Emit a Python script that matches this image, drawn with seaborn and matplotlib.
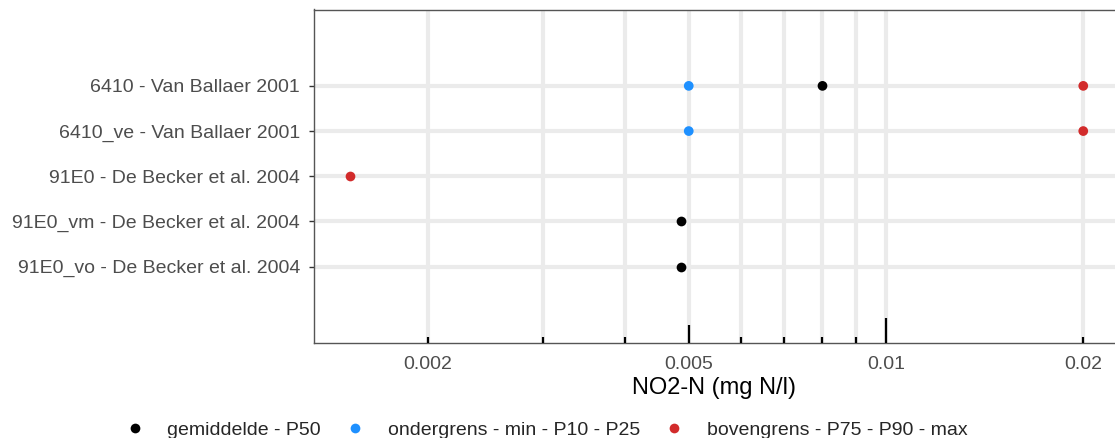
import numpy as np
import pandas as pd
import matplotlib
matplotlib.use("Agg")
import matplotlib.pyplot as plt
import matplotlib.ticker as mticker
import seaborn as sns

# ======== DATA ========
studies = [
    "6410 - Van Ballaer 2001",
    "6410_ve - Van Ballaer 2001",
    "91E0 - De Becker et al. 2004",
    "91E0_vm - De Becker et al. 2004",
    "91E0_vo - De Becker et al. 2004",
]
gemiddelde = [0.008, np.nan, np.nan, 0.00487, 0.00487]
ondergrens = [0.005, 0.005, np.nan, np.nan, np.nan]
bovengrens = [0.02, 0.02, 0.00152, np.nan, np.nan]

series_names = ["gemiddelde - P50", "ondergrens - min - P10 - P25", "bovengrens - P75 - P90 - max"]
series_colors = ["black", "#1E90FF", "#D22B2B"]
x_ticks = [0.002, 0.005, 0.01, 0.02]
x_tick_labels = ["0.002", "0.005", "0.01", "0.02"]
# ======================

df = pd.DataFrame({
    "studie": studies * 3,
    "type": [series_names[0]] * 5 + [series_names[1]] * 5 + [series_names[2]] * 5,
    "waarde": gemiddelde + ondergrens + bovengrens,
}).dropna()

sns.set_style("white")
plt.rcParams["font.family"] = ["Liberation Sans", "DejaVu Sans"]

fig = plt.figure(figsize=(11.15, 4.38), dpi=100)
ax = fig.add_axes([314 / 1115, 95 / 438, 1 - 314 / 1115, 333.5 / 438])
ax.set_xscale("log")

sns.stripplot(data=df, x="waarde", y="studie", hue="type", order=studies,
              hue_order=series_names, palette=series_colors, jitter=False,
              size=7, linewidth=0, ax=ax, zorder=3)

ax.set_xlim(0.00134, 0.02236)
ax.set_ylim(len(studies) - 1 + 1.69, -1.69)

# grid
ax.xaxis.set_major_locator(mticker.FixedLocator(x_ticks))
ax.xaxis.set_major_formatter(mticker.FixedFormatter(x_tick_labels))
ax.xaxis.set_minor_locator(mticker.LogLocator(base=10, subs=np.arange(1, 10)))
ax.xaxis.set_minor_formatter(mticker.NullFormatter())
ax.grid(True, which="both", axis="x", color="#EBEBEB", linewidth=3, zorder=0)
ax.grid(True, which="major", axis="y", color="#EBEBEB", linewidth=3, zorder=0)
ax.set_axisbelow(True)

ax.tick_params(axis="x", which="major", direction="out", length=5, width=1.4,
               color="black", labelsize=14, labelcolor="#4D4D4D", pad=4.5)
ax.tick_params(axis="x", which="minor", length=0)
ax.tick_params(axis="y", direction="out", length=3.5, width=1, color="#333333",
               labelsize=14, labelcolor="#4D4D4D", pad=6.5, left=True)

# log ticks inside the panel (like annotation_logticks)
trans = ax.get_xaxis_transform()
h = ax.get_position().height * 438
for dec in [0.001, 0.01]:
    for m in range(1, 10):
        v = dec * m
        if not (0.00134 <= v <= 0.02236):
            continue
        ln = 25 if m == 1 else (18 if m == 5 else 6)
        ax.vlines(v, 0, ln / h, transform=trans, color="black", linewidth=1.6, zorder=4)

for side in ["left", "top", "bottom"]:
    ax.spines[side].set_color("#555555")
    ax.spines[side].set_linewidth(1)
ax.spines["right"].set_visible(False)

ax.set_ylabel("")
ax.set_xlabel("NO2-N (mg N/l)", fontsize=17, color="black", labelpad=3)

handles, labels = ax.get_legend_handles_labels()
ax.get_legend().remove()
fig.legend(handles, labels, loc="lower center", bbox_to_anchor=(0.4855, -0.042), ncol=3,
           frameon=False, fontsize=14, handletextpad=0.68, columnspacing=0.75,
           markerscale=1.0)

fig.savefig("out.png", dpi=100)
